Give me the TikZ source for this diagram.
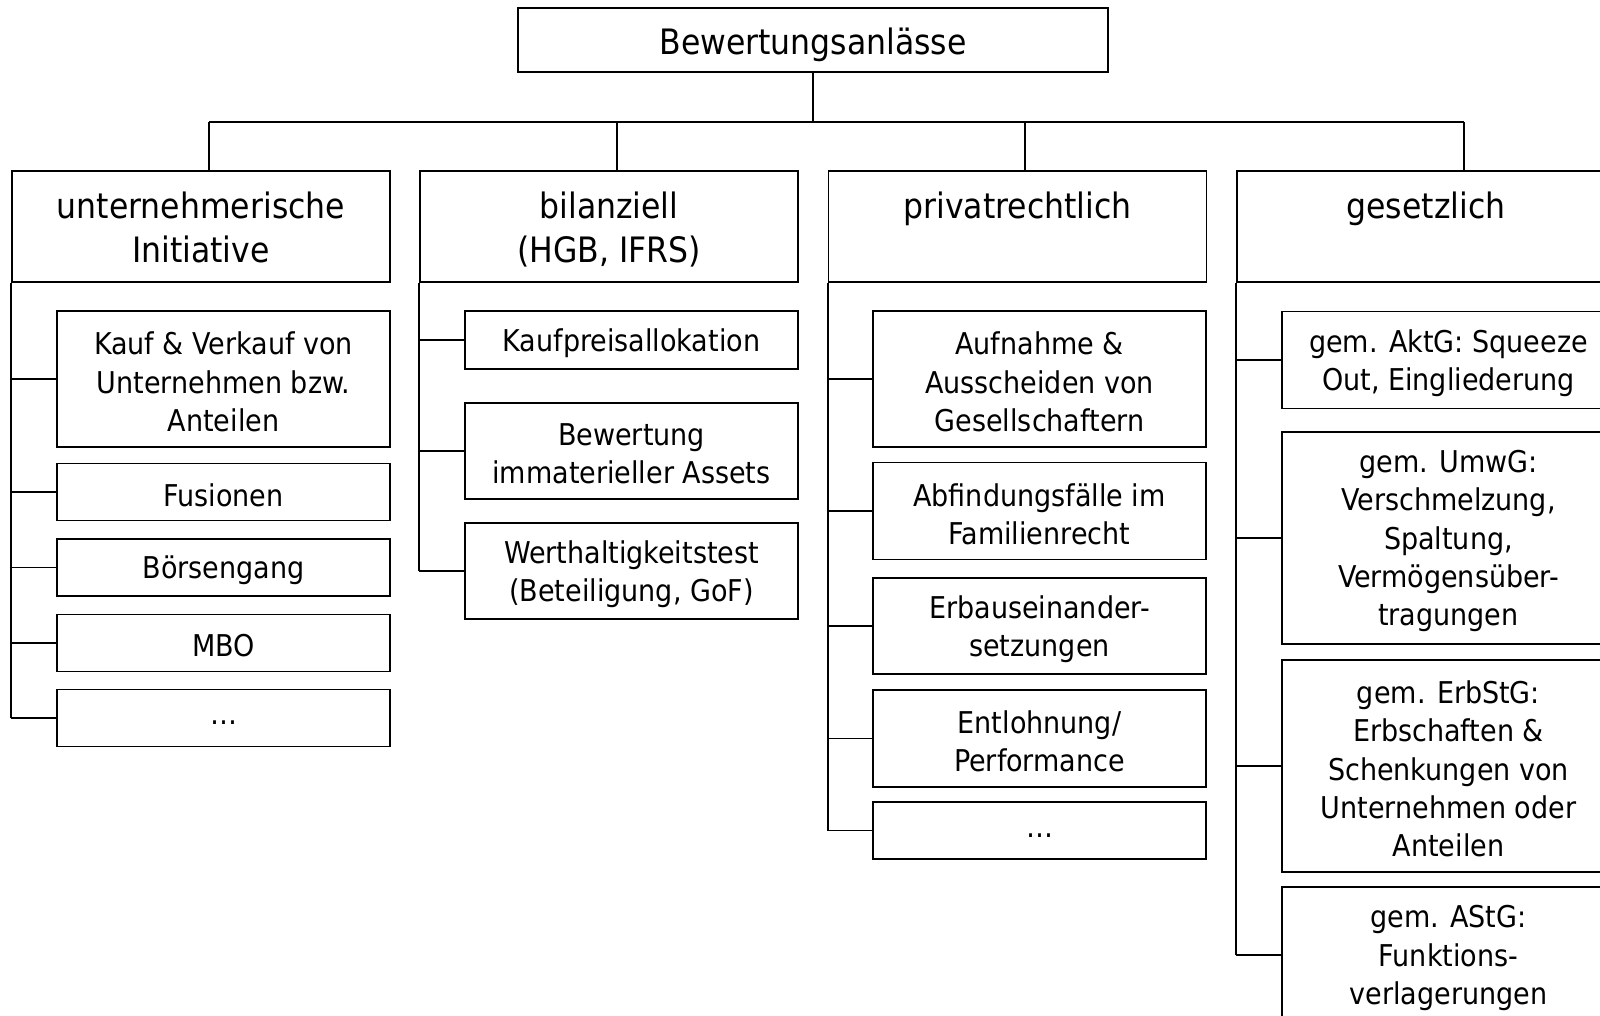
\documentclass[tikz,border=0pt]{standalone}
\usepackage{fontspec}
\setmainfont{DejaVu Sans Condensed}
\begin{document}
\begin{tikzpicture}[x=1pt,y=-1pt, line width=1.9pt,
  subbox/.style={draw, inner sep=0pt, minimum width=333pt},
  txt/.style={align=center, inner sep=0pt, font=\fontsize{30}{38.3}\selectfont},
  catbox/.style={draw, minimum width=378pt, minimum height=111pt, inner sep=0pt},
  cattext/.style={align=center, font=\fontsize{35}{44}\selectfont, inner sep=0pt, anchor=north}]
\path[use as bounding box, clip] (0,0) rectangle (1600,1016);
\fill[white] (0,0) rectangle (1600,1016);

% title
\node[draw, inner sep=0pt, minimum width=590pt, minimum height=64pt] (top) at (813,40) {};
\node[inner sep=0pt, font=\fontsize{35}{44}\selectfont] (topt) at ([yshift=-5pt]top.center) {Bewertungsanlässe};

% category boxes
\node[catbox] (c1) at (201,226.5) {};
\node[catbox] (c2) at (609,226.5) {};
\node[catbox] (c3) at (1017.5,226.5) {};
\node[catbox] (c4) at (1426,226.5) {};
\node[cattext] (t1) at (201,191) {unternehmerische\\Initiative};
\node[cattext] (t2) at (609,191) {bilanziell\\(HGB, IFRS)};
\node[cattext] (t3) at (1017.5,191) {privatrechtlich};
\node[cattext] (t4) at (1426,191) {gesetzlich};

% bus
\coordinate (j1) at (209,122);
\coordinate (j2) at (617,122);
\coordinate (j3) at (1025,122);
\coordinate (j4) at (1464,122);
\draw (top.south) -- (top.south |- j1);
\draw (j1) -- (j4);
\draw (j1) -- (j1 |- c1.north);
\draw (j2) -- (j2 |- c2.north);
\draw (j3) -- (j3 |- c3.north);
\draw (j4) -- (j4 |- c4.north);

% column 1
\node[subbox, minimum height=136pt] (a1) at (223.5,379) {};
\node[subbox, minimum height=57pt] (a2) at (223.5,492) {};
\node[subbox, minimum height=57pt] (a3) at (223.5,567.5) {};
\node[subbox, minimum height=57pt] (a4) at (223.5,643) {};
\node[subbox, minimum height=57pt] (a5) at (223.5,718) {};
\node[txt] (a1t) at ([yshift=-3pt]a1.center) {Kauf \& Verkauf von\\Unternehmen bzw.\\Anteilen};
\node[txt] (a2t) at ([yshift=-3pt]a2.center) {Fusionen};
\node[txt] (a3t) at ([yshift=-3pt]a3.center) {Börsengang};
\node[txt] (a4t) at ([yshift=-3pt]a4.center) {MBO};
\node[txt] (a5t) at ([yshift=-5pt]a5.center) {…};
\draw (c1.south west) -- (c1.south west |- a5.west);
\foreach \i in {1,...,5} {\draw (a\i.west) -- (a\i.west -| c1.west);}

% column 2
\node[subbox, minimum height=58pt] (b1) at (631.5,340) {};
\node[subbox, minimum height=96pt] (b2) at (631.5,451) {};
\node[subbox, minimum height=96pt] (b3) at (631.5,571) {};
\node[txt] (b1t) at ([yshift=-3pt]b1.center) {Kaufpreisallokation};
\node[txt] (b2t) at ([yshift=-3pt]b2.center) {Bewertung\\immaterieller Assets};
\node[txt] (b3t) at ([yshift=-3pt]b3.center) {Werthaltigkeitstest\\(Beteiligung, GoF)};
\draw (c2.south west) -- (c2.south west |- b3.west);
\foreach \i in {1,...,3} {\draw (b\i.west) -- (b\i.west -| c2.west);}

% column 3
\node[subbox, minimum height=136pt] (p1) at (1039.5,379) {};
\node[subbox, minimum height=97pt] (p2) at (1039.5,511) {};
\node[subbox, minimum height=96pt] (p3) at (1039.5,626) {};
\node[subbox, minimum height=97pt] (p4) at (1039.5,738.5) {};
\node[subbox, minimum height=57pt] (p5) at (1039.5,830.5) {};
\node[txt] (p1t) at ([yshift=-3pt]p1.center) {Aufnahme \&\\Ausscheiden von\\Gesellschaftern};
\node[txt] (p2t) at ([yshift=-3pt]p2.center) {Abfindungsfälle im\\Familienrecht};
\node[txt] (p3t) at ([yshift=-3pt]p3.center) {Erbauseinander-\\setzungen};
\node[txt] (p4t) at ([yshift=-3pt]p4.center) {Entlohnung/\\Performance};
\node[txt] (p5t) at ([yshift=-5pt]p5.center) {…};
\draw (c3.south west) -- (c3.south west |- p5.west);
\foreach \i in {1,...,5} {\draw (p\i.west) -- (p\i.west -| c3.west);}

% column 4
\node[subbox, minimum height=97pt] (g1) at (1448.5,360) {};
\node[subbox, minimum height=212pt] (g2) at (1448.5,538) {};
\node[subbox, minimum height=212pt] (g3) at (1448.5,766) {};
\node[subbox, minimum height=136pt] (g4) at (1448.5,955) {};
\node[txt] (g1t) at ([yshift=-3pt]g1.center) {gem. AktG: Squeeze\\Out, Eingliederung};
\node[txt] (g2t) at ([yshift=-3pt]g2.center) {gem. UmwG:\\Verschmelzung,\\Spaltung,\\Vermögensüber-\\tragungen};
\node[txt] (g3t) at ([yshift=-3pt]g3.center) {gem. ErbStG:\\Erbschaften \&\\Schenkungen von\\Unternehmen oder\\Anteilen};
\node[txt] (g4t) at ([yshift=-3pt]g4.center) {gem. AStG:\\Funktions-\\verlagerungen};
\draw (c4.south west) -- (c4.south west |- g4.west);
\foreach \i in {1,...,4} {\draw (g\i.west) -- (g\i.west -| c4.west);}
\end{tikzpicture}
\end{document}
